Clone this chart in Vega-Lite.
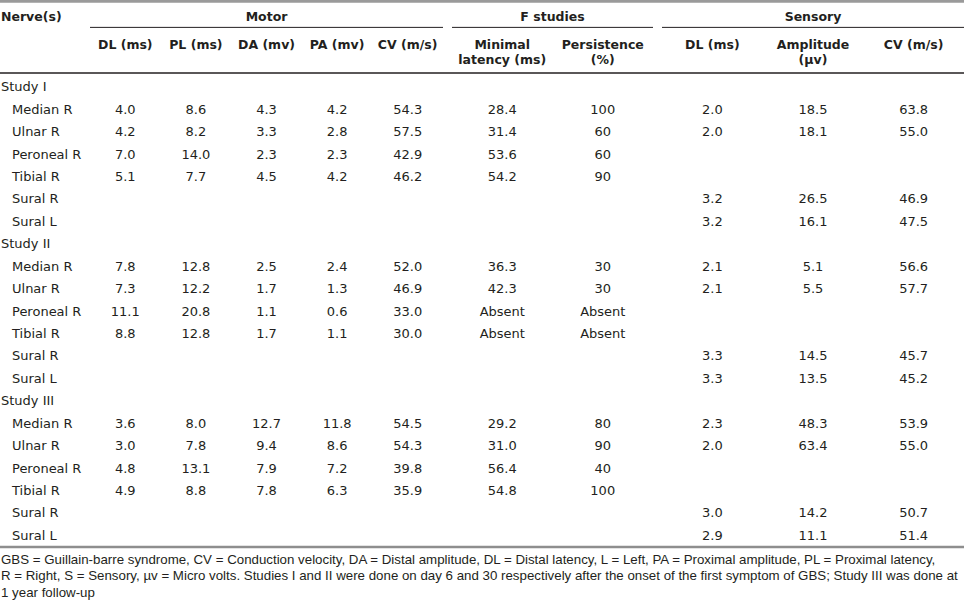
{
  "$schema": "https://vega.github.io/schema/vega-lite/v6.json",
  "width": 964,
  "height": 604,
  "padding": 0,
  "autosize": {"type": "none"},
  "background": "white",
  "config": {
    "view": {"stroke": null},
    "axis": {"disable": true},
    "text": {"color": "#231f20", "font": "DejaVu Sans", "fontSize": 13}
  },
  "datasets": {
    "rows": [
      {"i": 0, "kind": "study", "label": "Study I"},
      {"i": 1, "kind": "nerve", "label": "Median R", "DL": "4.0", "PL": "8.6", "DA": "4.3", "PA": "4.2", "CV": "54.3", "ML": "28.4", "PE": "100", "SDL": "2.0", "SAMP": "18.5", "SCV": "63.8"},
      {"i": 2, "kind": "nerve", "label": "Ulnar R", "DL": "4.2", "PL": "8.2", "DA": "3.3", "PA": "2.8", "CV": "57.5", "ML": "31.4", "PE": "60", "SDL": "2.0", "SAMP": "18.1", "SCV": "55.0"},
      {"i": 3, "kind": "nerve", "label": "Peroneal R", "DL": "7.0", "PL": "14.0", "DA": "2.3", "PA": "2.3", "CV": "42.9", "ML": "53.6", "PE": "60"},
      {"i": 4, "kind": "nerve", "label": "Tibial R", "DL": "5.1", "PL": "7.7", "DA": "4.5", "PA": "4.2", "CV": "46.2", "ML": "54.2", "PE": "90"},
      {"i": 5, "kind": "nerve", "label": "Sural R", "SDL": "3.2", "SAMP": "26.5", "SCV": "46.9"},
      {"i": 6, "kind": "nerve", "label": "Sural L", "SDL": "3.2", "SAMP": "16.1", "SCV": "47.5"},
      {"i": 7, "kind": "study", "label": "Study II"},
      {"i": 8, "kind": "nerve", "label": "Median R", "DL": "7.8", "PL": "12.8", "DA": "2.5", "PA": "2.4", "CV": "52.0", "ML": "36.3", "PE": "30", "SDL": "2.1", "SAMP": "5.1", "SCV": "56.6"},
      {"i": 9, "kind": "nerve", "label": "Ulnar R", "DL": "7.3", "PL": "12.2", "DA": "1.7", "PA": "1.3", "CV": "46.9", "ML": "42.3", "PE": "30", "SDL": "2.1", "SAMP": "5.5", "SCV": "57.7"},
      {"i": 10, "kind": "nerve", "label": "Peroneal R", "DL": "11.1", "PL": "20.8", "DA": "1.1", "PA": "0.6", "CV": "33.0", "ML": "Absent", "PE": "Absent"},
      {"i": 11, "kind": "nerve", "label": "Tibial R", "DL": "8.8", "PL": "12.8", "DA": "1.7", "PA": "1.1", "CV": "30.0", "ML": "Absent", "PE": "Absent"},
      {"i": 12, "kind": "nerve", "label": "Sural R", "SDL": "3.3", "SAMP": "14.5", "SCV": "45.7"},
      {"i": 13, "kind": "nerve", "label": "Sural L", "SDL": "3.3", "SAMP": "13.5", "SCV": "45.2"},
      {"i": 14, "kind": "study", "label": "Study III"},
      {"i": 15, "kind": "nerve", "label": "Median R", "DL": "3.6", "PL": "8.0", "DA": "12.7", "PA": "11.8", "CV": "54.5", "ML": "29.2", "PE": "80", "SDL": "2.3", "SAMP": "48.3", "SCV": "53.9"},
      {"i": 16, "kind": "nerve", "label": "Ulnar R", "DL": "3.0", "PL": "7.8", "DA": "9.4", "PA": "8.6", "CV": "54.3", "ML": "31.0", "PE": "90", "SDL": "2.0", "SAMP": "63.4", "SCV": "55.0"},
      {"i": 17, "kind": "nerve", "label": "Peroneal R", "DL": "4.8", "PL": "13.1", "DA": "7.9", "PA": "7.2", "CV": "39.8", "ML": "56.4", "PE": "40"},
      {"i": 18, "kind": "nerve", "label": "Tibial R", "DL": "4.9", "PL": "8.8", "DA": "7.8", "PA": "6.3", "CV": "35.9", "ML": "54.8", "PE": "100"},
      {"i": 19, "kind": "nerve", "label": "Sural R", "SDL": "3.0", "SAMP": "14.2", "SCV": "50.7"},
      {"i": 20, "kind": "nerve", "label": "Sural L", "SDL": "2.9", "SAMP": "11.1", "SCV": "51.4"}
    ],
    "header": [
      {"grp": "N", "level": "g", "col": "N", "label": "Nerve(s)"},
      {"grp": "M", "level": "g", "col": "DA", "label": "Motor"},
      {"grp": "F", "level": "g", "col": "ML", "label": "F studies"},
      {"grp": "S", "level": "g", "col": "SAMP", "label": "Sensory"},
      {"grp": "M", "level": "c", "col": "DL", "label": "DL (ms)"},
      {"grp": "M", "level": "c", "col": "PL", "label": "PL (ms)"},
      {"grp": "M", "level": "c", "col": "DA", "label": "DA (mv)"},
      {"grp": "M", "level": "c", "col": "PA", "label": "PA (mv)"},
      {"grp": "M", "level": "c", "col": "CV", "label": "CV (m/s)"},
      {"grp": "F", "level": "c", "col": "ML", "label": "Minimal\nlatency (ms)"},
      {"grp": "F", "level": "c", "col": "PE", "label": "Persistence\n(%)"},
      {"grp": "S", "level": "c", "col": "SDL", "label": "DL (ms)"},
      {"grp": "S", "level": "c", "col": "SAMP", "label": "Amplitude\n(µv)"},
      {"grp": "S", "level": "c", "col": "SCV", "label": "CV (m/s)"}
    ],
    "notes": [
      {"note": "GBS = Guillain-barre syndrome, CV = Conduction velocity, DA = Distal amplitude, DL = Distal latency, L = Left, PA = Proximal amplitude, PL = Proximal latency,\nR = Right, S = Sensory, µv = Micro volts. Studies I and II were done on day 6 and 30 respectively after the onset of the first symptom of GBS; Study III was done at\n1 year follow-up"}
    ]
  },
  "layer": [
    {
      "data": {"values": [{}]},
      "mark": {"type": "rule", "color": "#9a9a9a", "strokeWidth": 3},
      "encoding": {"y": {"datum": "g", "type": "nominal", "bandPosition": 0.036, "scale": {"type": "band", "domain": ["g", "c"], "range": [0, 73], "paddingInner": 0, "paddingOuter": 0}}}
    },
    {
      "data": {"values": [{}]},
      "mark": {"type": "rule", "color": "#231f20", "strokeWidth": 1.3},
      "encoding": {"y": {"datum": "c", "type": "nominal", "bandPosition": 1, "scale": {"type": "band", "domain": ["g", "c"], "range": [0, 73], "paddingInner": 0, "paddingOuter": 0}}}
    },
    {
      "data": {"values": [{}]},
      "mark": {"type": "rule", "color": "#8e8e8e", "strokeWidth": 2.5},
      "encoding": {"y": {"datum": 20, "type": "ordinal", "bandPosition": 1, "scale": {"type": "band", "domain": [0,1,2,3,4,5,6,7,8,9,10,11,12,13,14,15,16,17,18,19,20], "range": [76, 547], "paddingInner": 0, "paddingOuter": 0}}}
    },
    {
      "data": {"values": [{}]},
      "mark": {"type": "rule", "color": "#231f20", "strokeWidth": 1},
      "encoding": {
        "x": {"datum": "DL", "type": "nominal", "bandPosition": 0, "scale": {"type": "band", "domain": ["DL", "PL", "DA", "PA", "CV"], "range": [90, 443], "paddingInner": 0, "paddingOuter": 0}},
        "x2": {"datum": "CV", "bandPosition": 1},
        "y": {"datum": "g", "type": "nominal", "bandPosition": 0.75, "scale": {"type": "band", "domain": ["g", "c"], "range": [0, 73], "paddingInner": 0, "paddingOuter": 0}}
      }
    },
    {
      "data": {"values": [{}]},
      "mark": {"type": "rule", "color": "#231f20", "strokeWidth": 1},
      "encoding": {
        "x": {"datum": "ML", "type": "nominal", "bandPosition": 0, "scale": {"type": "band", "domain": ["ML", "PE"], "range": [452, 653], "paddingInner": 0, "paddingOuter": 0}},
        "x2": {"datum": "PE", "bandPosition": 1},
        "y": {"datum": "g", "type": "nominal", "bandPosition": 0.75, "scale": {"type": "band", "domain": ["g", "c"], "range": [0, 73], "paddingInner": 0, "paddingOuter": 0}}
      }
    },
    {
      "data": {"values": [{}]},
      "mark": {"type": "rule", "color": "#231f20", "strokeWidth": 1},
      "encoding": {
        "x": {"datum": "SDL", "type": "nominal", "bandPosition": 0, "scale": {"type": "band", "domain": ["SDL", "SAMP", "SCV"], "range": [662, 964], "paddingInner": 0, "paddingOuter": 0}},
        "x2": {"datum": "SCV", "bandPosition": 1},
        "y": {"datum": "g", "type": "nominal", "bandPosition": 0.75, "scale": {"type": "band", "domain": ["g", "c"], "range": [0, 73], "paddingInner": 0, "paddingOuter": 0}}
      }
    },
    {
      "data": {"name": "header"},
      "transform": [{"filter": "datum.grp == 'N'"}],
      "mark": {"type": "text", "font": "DejaVu Sans", "fontWeight": "bold", "fontSize": 12.5, "align": "left", "baseline": "alphabetic", "dx": 1},
      "encoding": {
        "x": {"field": "col", "type": "nominal", "bandPosition": 0, "scale": {"type": "band", "domain": ["N"], "range": [0, 90], "paddingInner": 0, "paddingOuter": 0}},
        "y": {"field": "level", "type": "nominal", "bandPosition": 0.567, "scale": {"type": "band", "domain": ["g", "c"], "range": [0, 73], "paddingInner": 0, "paddingOuter": 0}},
        "text": {"field": "label"}
      }
    },
    {
      "data": {"name": "header"},
      "transform": [{"filter": "datum.grp == 'M' && datum.level == 'g'"}],
      "mark": {"type": "text", "font": "DejaVu Sans", "fontWeight": "bold", "fontSize": 12.5, "align": "center", "baseline": "alphabetic"},
      "encoding": {
        "x": {"field": "col", "type": "nominal", "bandPosition": 0.5, "scale": {"type": "band", "domain": ["DL", "PL", "DA", "PA", "CV"], "range": [90, 443], "paddingInner": 0, "paddingOuter": 0}},
        "y": {"field": "level", "type": "nominal", "bandPosition": 0.567, "scale": {"type": "band", "domain": ["g", "c"], "range": [0, 73], "paddingInner": 0, "paddingOuter": 0}},
        "text": {"field": "label"}
      }
    },
    {
      "data": {"name": "header"},
      "transform": [{"filter": "datum.grp == 'M' && datum.level == 'c'"}],
      "mark": {"type": "text", "font": "DejaVu Sans", "fontWeight": "bold", "fontSize": 12.5, "align": "center", "baseline": "alphabetic", "lineBreak": "\n", "lineHeight": 15},
      "encoding": {
        "x": {"field": "col", "type": "nominal", "bandPosition": 0.5, "scale": {"type": "band", "domain": ["DL", "PL", "DA", "PA", "CV"], "range": [90, 443], "paddingInner": 0, "paddingOuter": 0}},
        "y": {"field": "level", "type": "nominal", "bandPosition": 0.34, "scale": {"type": "band", "domain": ["g", "c"], "range": [0, 73], "paddingInner": 0, "paddingOuter": 0}},
        "text": {"field": "label"}
      }
    },
    {
      "data": {"name": "header"},
      "transform": [{"filter": "datum.grp == 'F' && datum.level == 'g'"}],
      "mark": {"type": "text", "font": "DejaVu Sans", "fontWeight": "bold", "fontSize": 12.5, "align": "center", "baseline": "alphabetic"},
      "encoding": {
        "x": {"field": "col", "type": "nominal", "bandPosition": 1, "scale": {"type": "band", "domain": ["ML", "PE"], "range": [452, 653], "paddingInner": 0, "paddingOuter": 0}},
        "y": {"field": "level", "type": "nominal", "bandPosition": 0.567, "scale": {"type": "band", "domain": ["g", "c"], "range": [0, 73], "paddingInner": 0, "paddingOuter": 0}},
        "text": {"field": "label"}
      }
    },
    {
      "data": {"name": "header"},
      "transform": [{"filter": "datum.grp == 'F' && datum.level == 'c'"}],
      "mark": {"type": "text", "font": "DejaVu Sans", "fontWeight": "bold", "fontSize": 12.5, "align": "center", "baseline": "alphabetic", "lineBreak": "\n", "lineHeight": 15},
      "encoding": {
        "x": {"field": "col", "type": "nominal", "bandPosition": 0.5, "scale": {"type": "band", "domain": ["ML", "PE"], "range": [452, 653], "paddingInner": 0, "paddingOuter": 0}},
        "y": {"field": "level", "type": "nominal", "bandPosition": 0.34, "scale": {"type": "band", "domain": ["g", "c"], "range": [0, 73], "paddingInner": 0, "paddingOuter": 0}},
        "text": {"field": "label"}
      }
    },
    {
      "data": {"name": "header"},
      "transform": [{"filter": "datum.grp == 'S' && datum.level == 'g'"}],
      "mark": {"type": "text", "font": "DejaVu Sans", "fontWeight": "bold", "fontSize": 12.5, "align": "center", "baseline": "alphabetic"},
      "encoding": {
        "x": {"field": "col", "type": "nominal", "bandPosition": 0.5, "scale": {"type": "band", "domain": ["SDL", "SAMP", "SCV"], "range": [662, 964], "paddingInner": 0, "paddingOuter": 0}},
        "y": {"field": "level", "type": "nominal", "bandPosition": 0.567, "scale": {"type": "band", "domain": ["g", "c"], "range": [0, 73], "paddingInner": 0, "paddingOuter": 0}},
        "text": {"field": "label"}
      }
    },
    {
      "data": {"name": "header"},
      "transform": [{"filter": "datum.grp == 'S' && datum.level == 'c'"}],
      "mark": {"type": "text", "font": "DejaVu Sans", "fontWeight": "bold", "fontSize": 12.5, "align": "center", "baseline": "alphabetic", "lineBreak": "\n", "lineHeight": 15},
      "encoding": {
        "x": {"field": "col", "type": "nominal", "bandPosition": 0.5, "scale": {"type": "band", "domain": ["SDL", "SAMP", "SCV"], "range": [662, 964], "paddingInner": 0, "paddingOuter": 0}},
        "y": {"field": "level", "type": "nominal", "bandPosition": 0.34, "scale": {"type": "band", "domain": ["g", "c"], "range": [0, 73], "paddingInner": 0, "paddingOuter": 0}},
        "text": {"field": "label"}
      }
    },
    {
      "data": {"name": "rows"},
      "transform": [{"filter": "datum.kind == 'study'"}],
      "mark": {"type": "text", "align": "left", "baseline": "middle", "dx": 1},
      "encoding": {
        "x": {"datum": "N", "type": "nominal", "bandPosition": 0, "scale": {"type": "band", "domain": ["N"], "range": [0, 90], "paddingInner": 0, "paddingOuter": 0}},
        "y": {"field": "i", "type": "ordinal", "bandPosition": 0.5, "scale": {"type": "band", "domain": [0,1,2,3,4,5,6,7,8,9,10,11,12,13,14,15,16,17,18,19,20], "range": [76, 547], "paddingInner": 0, "paddingOuter": 0}},
        "text": {"field": "label"}
      }
    },
    {
      "data": {"name": "rows"},
      "transform": [{"filter": "datum.kind == 'nerve'"}],
      "mark": {"type": "text", "align": "left", "baseline": "middle", "dx": 12},
      "encoding": {
        "x": {"datum": "N", "type": "nominal", "bandPosition": 0, "scale": {"type": "band", "domain": ["N"], "range": [0, 90], "paddingInner": 0, "paddingOuter": 0}},
        "y": {"field": "i", "type": "ordinal", "bandPosition": 0.5, "scale": {"type": "band", "domain": [0,1,2,3,4,5,6,7,8,9,10,11,12,13,14,15,16,17,18,19,20], "range": [76, 547], "paddingInner": 0, "paddingOuter": 0}},
        "text": {"field": "label"}
      }
    },
    {
      "data": {"name": "rows"},
      "transform": [{"fold": ["DL", "PL", "DA", "PA", "CV"], "as": ["col", "v"]}, {"filter": "isValid(datum.v)"}],
      "mark": {"type": "text", "align": "center", "baseline": "middle"},
      "encoding": {
        "x": {"field": "col", "type": "nominal", "bandPosition": 0.5, "scale": {"type": "band", "domain": ["DL", "PL", "DA", "PA", "CV"], "range": [90, 443], "paddingInner": 0, "paddingOuter": 0}},
        "y": {"field": "i", "type": "ordinal", "bandPosition": 0.5, "scale": {"type": "band", "domain": [0,1,2,3,4,5,6,7,8,9,10,11,12,13,14,15,16,17,18,19,20], "range": [76, 547], "paddingInner": 0, "paddingOuter": 0}},
        "text": {"field": "v"}
      }
    },
    {
      "data": {"name": "rows"},
      "transform": [{"fold": ["ML", "PE"], "as": ["col", "v"]}, {"filter": "isValid(datum.v)"}],
      "mark": {"type": "text", "align": "center", "baseline": "middle"},
      "encoding": {
        "x": {"field": "col", "type": "nominal", "bandPosition": 0.5, "scale": {"type": "band", "domain": ["ML", "PE"], "range": [452, 653], "paddingInner": 0, "paddingOuter": 0}},
        "y": {"field": "i", "type": "ordinal", "bandPosition": 0.5, "scale": {"type": "band", "domain": [0,1,2,3,4,5,6,7,8,9,10,11,12,13,14,15,16,17,18,19,20], "range": [76, 547], "paddingInner": 0, "paddingOuter": 0}},
        "text": {"field": "v"}
      }
    },
    {
      "data": {"name": "rows"},
      "transform": [{"fold": ["SDL", "SAMP", "SCV"], "as": ["col", "v"]}, {"filter": "isValid(datum.v)"}],
      "mark": {"type": "text", "align": "center", "baseline": "middle"},
      "encoding": {
        "x": {"field": "col", "type": "nominal", "bandPosition": 0.5, "scale": {"type": "band", "domain": ["SDL", "SAMP", "SCV"], "range": [662, 964], "paddingInner": 0, "paddingOuter": 0}},
        "y": {"field": "i", "type": "ordinal", "bandPosition": 0.5, "scale": {"type": "band", "domain": [0,1,2,3,4,5,6,7,8,9,10,11,12,13,14,15,16,17,18,19,20], "range": [76, 547], "paddingInner": 0, "paddingOuter": 0}},
        "text": {"field": "v"}
      }
    },
    {
      "data": {"name": "notes"},
      "mark": {"type": "text", "font": "Liberation Sans", "fontSize": 13.3, "align": "left", "baseline": "alphabetic", "lineBreak": "\n", "lineHeight": 16.6, "dx": 1, "dy": 16.5},
      "encoding": {
        "x": {"datum": "N", "type": "nominal", "bandPosition": 0, "scale": {"type": "band", "domain": ["N"], "range": [0, 90], "paddingInner": 0, "paddingOuter": 0}},
        "y": {"datum": 20, "type": "ordinal", "bandPosition": 1, "scale": {"type": "band", "domain": [0,1,2,3,4,5,6,7,8,9,10,11,12,13,14,15,16,17,18,19,20], "range": [76, 547], "paddingInner": 0, "paddingOuter": 0}},
        "text": {"field": "note"}
      }
    }
  ],
  "resolve": {"scale": {"x": "independent", "y": "independent"}}
}
